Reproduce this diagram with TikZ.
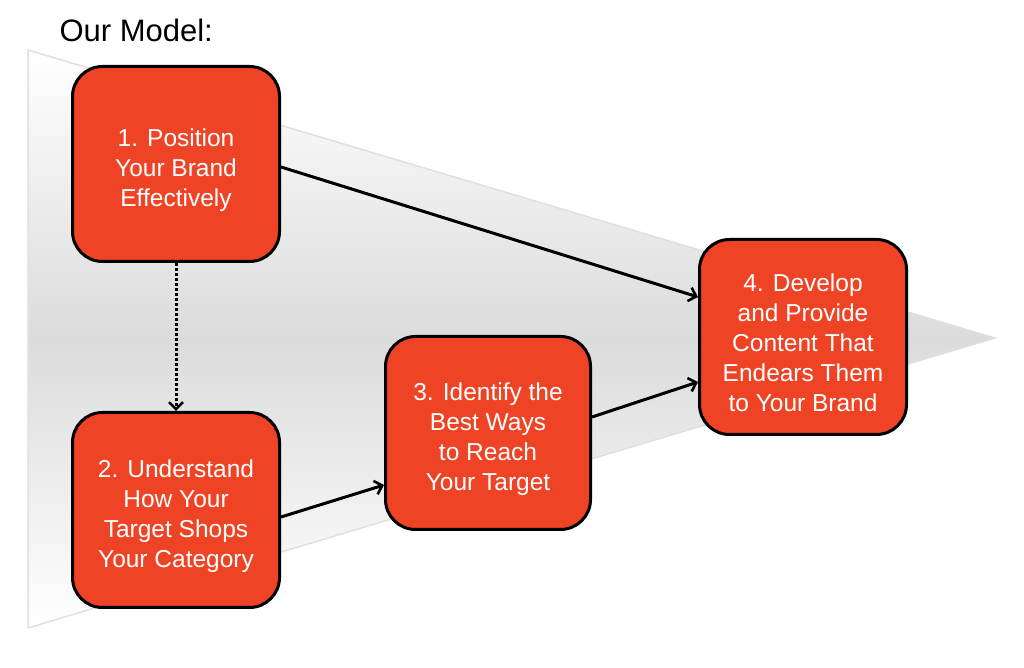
\documentclass[tikz,border=0pt]{standalone}
\usepackage{fontspec}
\setmainfont{Liberation Sans}
\usetikzlibrary{arrows.meta}
\definecolor{boxred}{HTML}{EE4324}
\newcommand{\topstrut}{\rule{0pt}{30pt}}
\tikzset{
  stepbox/.style={draw=black, line width=3pt, fill=boxred, rounded corners=30pt,
    minimum width=207pt, minimum height=195pt, text=white, align=center,
    font=\fontsize{24.5pt}{30pt}\selectfont, inner sep=0pt},
  link/.style={draw=black, line width=3pt, -{Straight Barb[length=7pt,width=14pt,line width=2.6pt]}},
  dotlink/.style={draw=black, line width=3pt, dotted, -{Straight Barb[length=7pt,width=14pt,line width=2.6pt]}}
}
\begin{document}
\begin{tikzpicture}[x=1pt,y=1pt]
\useasboundingbox (0,0) rectangle (1024,668);
\fill[white] (0,0) rectangle (1024,668);
% funnel triangle
\shade[top color=white, bottom color=white, middle color=black!14, draw=black!12, line width=1.5pt]
  (28,618) -- (995,330) -- (28,40) -- cycle;
\node[anchor=base west, font=\fontsize{31pt}{36pt}\selectfont] (title) at (56,626) {Our Model:};
\node[stepbox] (b1) at (176,504) {\topstrut1. Position\\Your Brand\\Effectively};
\node[stepbox] (b2) at (176,158) {\topstrut2. Understand\\How Your\\Target Shops\\Your Category};
\node[stepbox, minimum width=205pt, minimum height=193pt] (b3) at (488,235) {\topstrut3. Identify the\\Best Ways\\to Reach\\Your Target};
\node[stepbox] (b4) at (803,331) {\topstrut4. Develop\\and Provide\\Content That\\Endears Them\\to Your Brand};
\draw[dotlink] (b1.south) -- (b2.north);
\draw[link] ([yshift=-3pt]b1.east) -- ([yshift=40pt]b4.west);
\draw[link] ([yshift=-7pt]b2.east) -- ([yshift=-52pt]b3.west);
\draw[link] ([yshift=16pt]b3.east) -- ([yshift=-45pt]b4.west);
\end{tikzpicture}
\end{document}
